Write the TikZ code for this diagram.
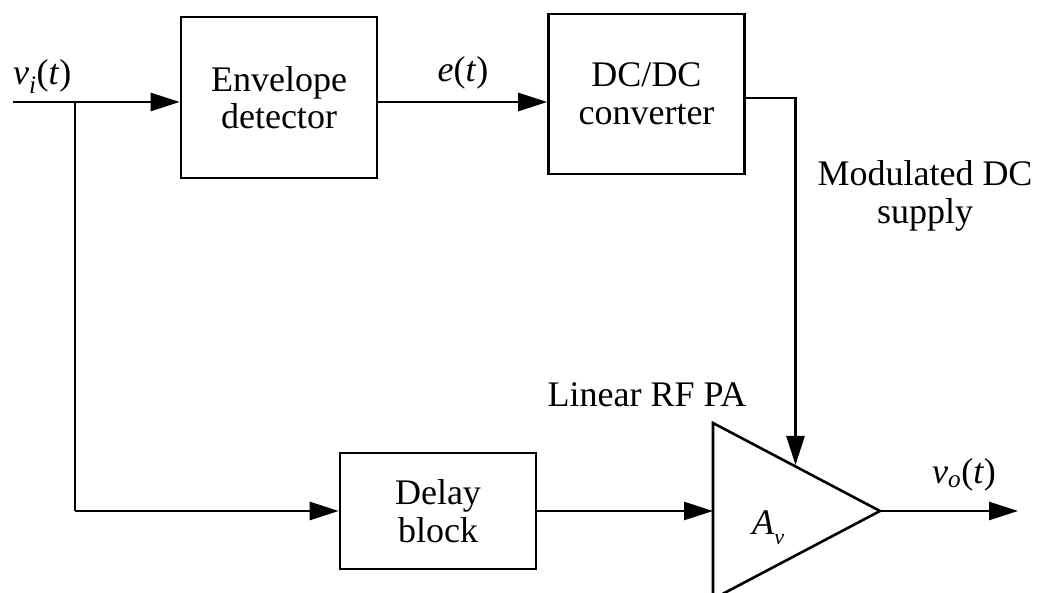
\documentclass[tikz,border=0pt]{standalone}
\usepackage{fontspec}
\setmainfont{Liberation Serif}
\usetikzlibrary{arrows.meta}

\begin{document}
\begin{tikzpicture}[x=1pt,y=-1pt,
  wire/.style={line width=2.6pt},
  sig/.style={wire,-{Triangle[length=29pt,width=18pt]}},
  txt/.style={font=\fontsize{36}{37.5}\selectfont},
  blockbox/.style={draw,line width=2.6pt,txt,align=center,inner sep=0pt,
    minimum width=196pt,minimum height=#1},
  lbl/.style={txt,inner sep=0pt},
]
\clip (0,0) rectangle (1037,593);

% processing blocks
\node[blockbox=161pt] (env)   at (279,97.5) {Envelope\\detector};
\node[blockbox=160pt] (dc)    at (646.5,94) {DC/DC\\converter};
\node[blockbox=116pt] (delay) at (438,511)  {Delay\\block};

% amplifier triangle
\coordinate (pa-top) at (713,423);
\coordinate (pa-bot) at (713,599);
\coordinate (pa-out) at (880,511);
\coordinate (pa-in)  at (713,511);
\coordinate (pa-hit) at (795.5,465);
\draw[wire,line join=miter] (pa-top) -- (pa-out) -- (pa-bot) -- cycle;

% signal routing points
\coordinate (vin)    at (13,102);
\coordinate (split)  at (75,102);
\coordinate (bend)   at (795.5,98);
\coordinate (vout)   at (1018,511);

% connectors
\draw[sig] (vin) -- (vin -| env.west);
\draw[wire] (split) -- (split |- delay.west);
\draw[sig] (split |- delay.west) -- (delay.west);
\draw[sig] (env.east |- vin) -- (dc.west |- vin);
\draw[sig] (dc.east |- bend) -- (bend) -- (pa-hit);
\draw[sig] (delay.east) -- (pa-in);
\draw[sig] (pa-out) -- (vout);

% labels
\node[lbl,anchor=base west] (vi) at (13,85)
  {\textit{v}\textsubscript{\textit{i}}(\textit{t})};
\node[lbl,anchor=base] (et) at (463,82) {\textit{e}(\textit{t})};
\node[lbl,align=center] (mod) at (925,196) {Modulated DC\\supply};
\node[lbl,anchor=base] (linpa) at (647,407) {Linear RF PA};
\node[lbl,anchor=base west] (av) at (752,535)
  {\textit{A}\raisebox{-10pt}{\fontsize{22}{22}\selectfont\textit{v}}};
\node[lbl,anchor=base west] (vo) at (932,484)
  {\textit{v}\textsubscript{\textit{o}}(\textit{t})};
\end{tikzpicture}
\end{document}
